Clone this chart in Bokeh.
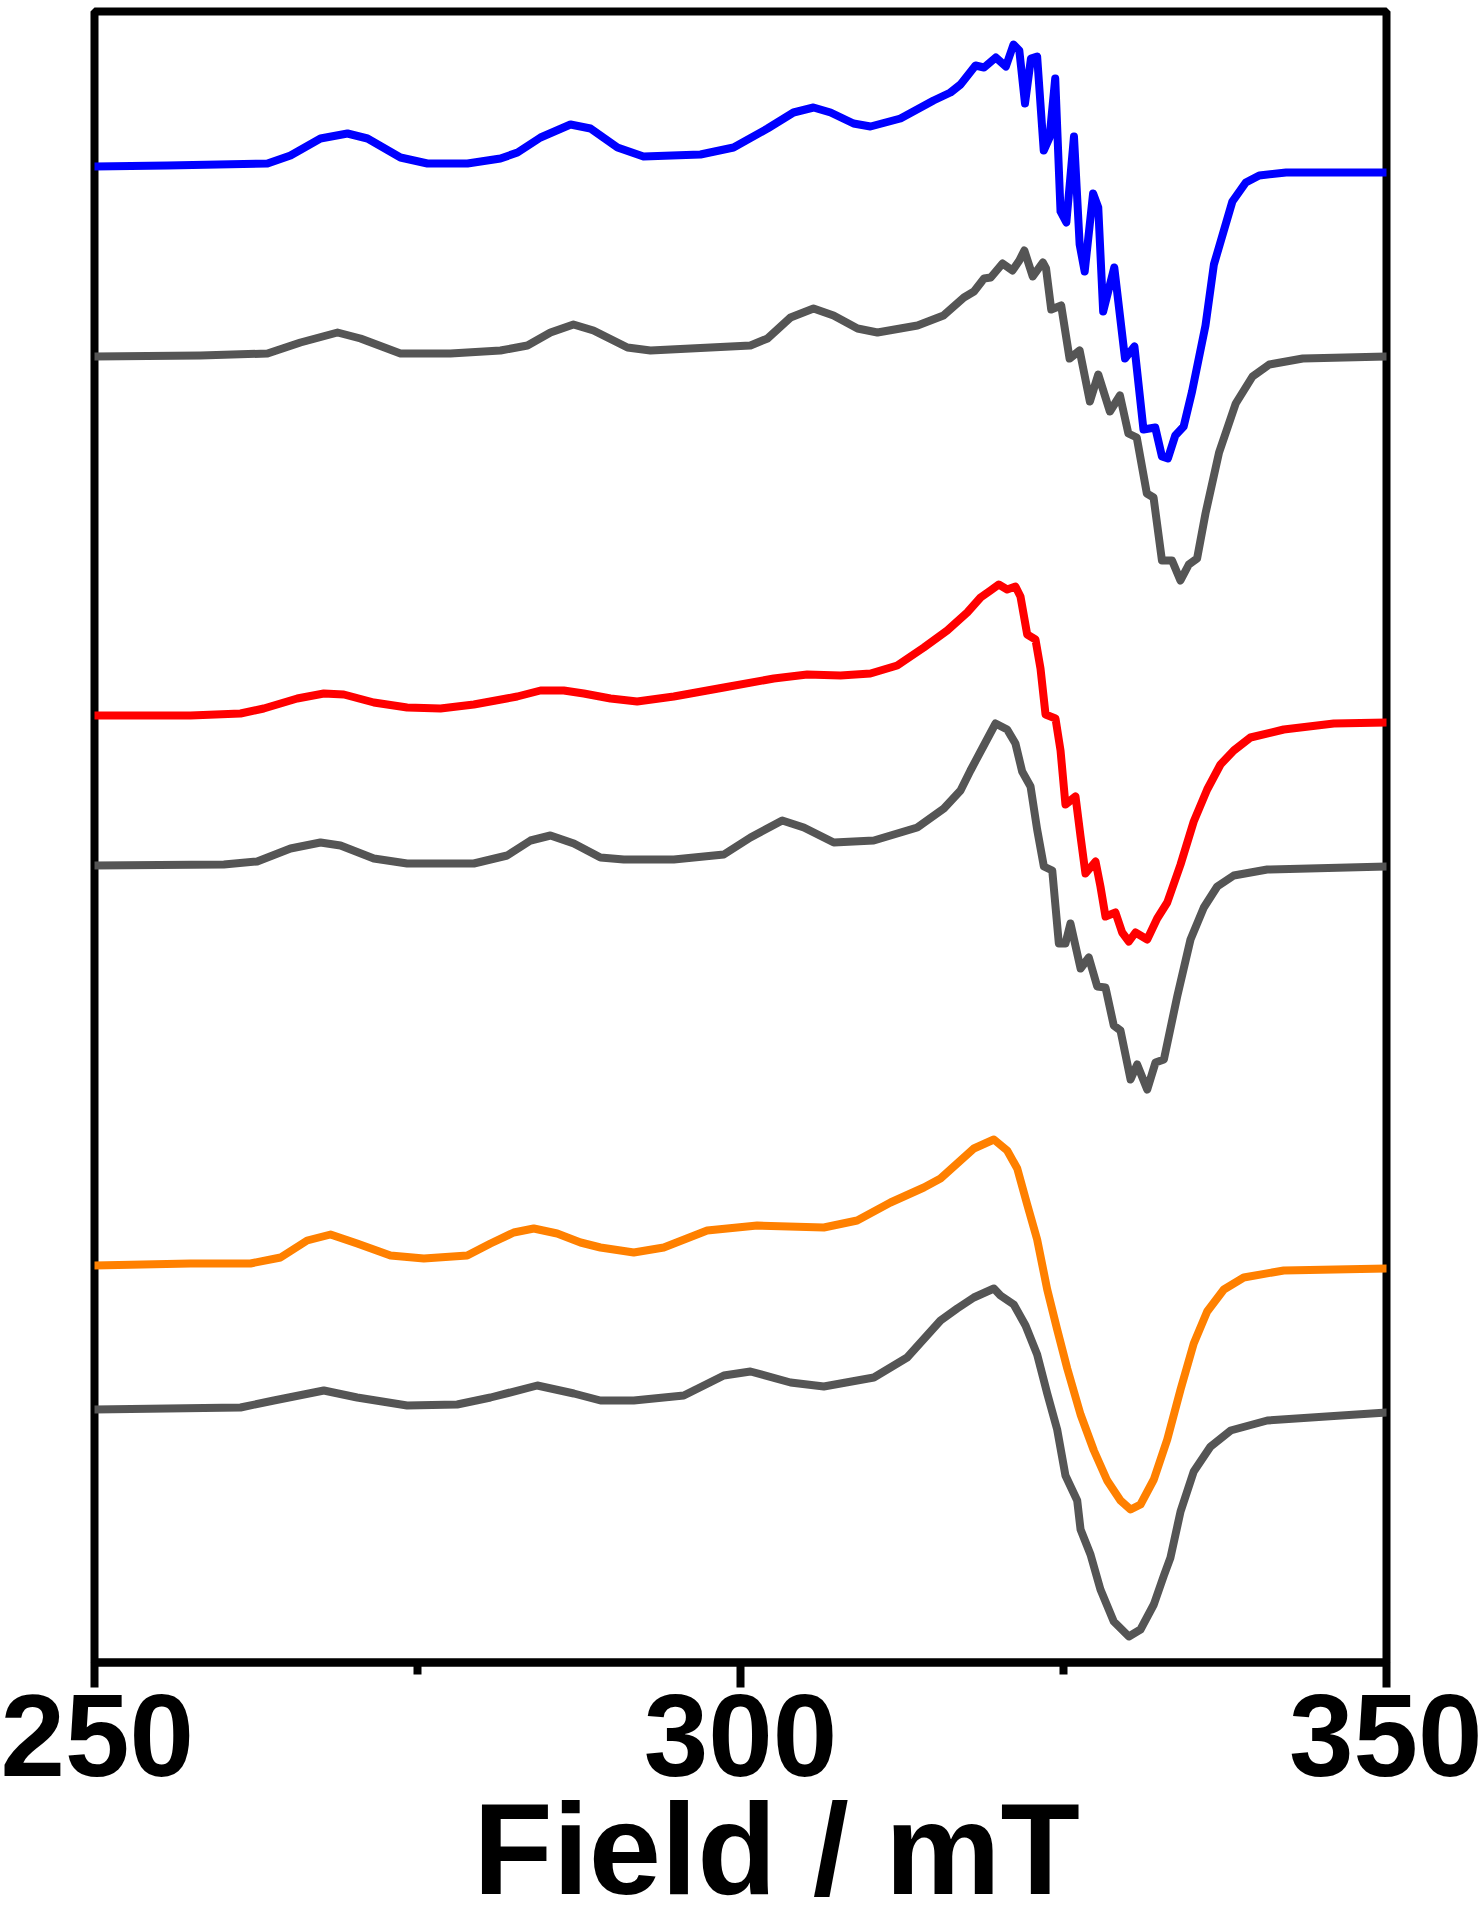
from bokeh.plotting import figure
from bokeh.models import Range1d, FixedTicker, Title
from bokeh.embed import file_html
from bokeh.resources import INLINE

# ---- data: field (mT) and signal (arbitrary units, stacked) ----
blue_x = [250.0, 255.65, 263.39, 265.17, 267.49, 269.58, 271.13, 273.68, 275.77, 278.87, 281.42, 282.74,
          284.52, 286.84, 288.39, 290.48, 292.49, 296.90, 299.46, 302.09, 304.10, 305.65, 306.97, 308.75,
          310.06, 312.38, 314.94, 316.25, 317.03, 318.19, 318.85, 319.76, 320.54, 321.13, 321.58, 322.02,
          322.48, 322.96, 323.47, 323.92, 324.36, 324.77, 325.22, 325.81, 326.25, 326.64, 327.29, 327.69,
          328.07, 328.93, 329.24, 329.76, 330.49, 331.19, 332.10, 332.62, 333.08, 333.65, 334.30, 334.95,
          335.99, 336.64, 338.07, 339.11, 340.15, 342.23, 350.0]
blue_y = [149.6, 149.7, 149.9, 150.7, 152.4, 152.9, 152.4, 150.5, 149.9, 149.9, 150.4, 151.0,
          152.5, 153.8, 153.4, 151.5, 150.6, 150.8, 151.5, 153.4, 155.0, 155.5, 155.0, 153.9,
          153.6, 154.4, 156.2, 157.0, 157.8, 159.7, 159.5, 160.5, 159.6, 161.8, 161.2, 155.9,
          160.4, 160.6, 151.2, 152.5, 158.4, 145.1, 144.0, 152.6, 141.8, 139.1, 146.9, 145.5,
          135.1, 139.5, 136.1, 130.4, 131.6, 123.3, 123.5, 120.6, 120.4, 122.7, 123.6, 127.1,
          133.7, 139.8, 146.1, 148.0, 148.7, 149.0, 149.0]

gray1_x = [250.0, 258.20, 263.39, 265.94, 268.81, 270.59, 273.68, 277.55, 281.42, 283.51, 285.29, 287.07,
           288.62, 291.25, 293.03, 300.77, 302.09, 303.87, 305.65, 307.20, 309.06, 310.60, 313.70, 315.71,
           317.29, 318.07, 318.85, 319.37, 320.28, 321.05, 321.58, 321.97, 322.62, 323.40, 323.65, 324.05,
           324.82, 325.47, 326.25, 327.04, 327.69, 328.59, 329.37, 330.02, 330.67, 331.45, 331.97, 332.62,
           333.40, 334.05, 334.70, 335.34, 335.99, 337.04, 338.33, 339.63, 340.93, 343.52, 350.0]
gray1_y = [130.6, 130.7, 130.9, 132.0, 133.0, 132.4, 130.9, 130.9, 131.2, 131.7, 133.0, 133.8,
           133.2, 131.5, 131.2, 131.7, 132.4, 134.5, 135.4, 134.7, 133.4, 133.0, 133.7, 134.7,
           136.5, 137.1, 138.4, 138.5, 139.9, 139.2, 140.2, 141.2, 138.6, 140.0, 139.4, 135.3,
           135.7, 130.4, 131.2, 126.1, 128.8, 125.1, 126.7, 122.9, 122.5, 116.9, 116.5, 110.2,
           110.2, 108.2, 109.8, 110.4, 114.9, 121.0, 125.9, 128.6, 129.8, 130.4, 130.6]

red_x = [250.0, 257.43, 261.30, 263.10, 265.69, 267.75, 269.30, 271.62, 274.20, 276.78, 279.36, 282.72,
         284.52, 286.32, 287.87, 289.94, 292.00, 294.84, 298.71, 302.58, 305.16, 307.74, 310.06, 312.13,
         314.19, 316.00, 317.55, 318.58, 319.35, 319.99, 320.64, 321.28, 321.67, 322.19, 322.83, 323.22,
         323.61, 324.38, 324.77, 325.15, 325.93, 326.32, 326.70, 327.48, 327.86, 328.25, 329.02, 329.54,
         330.06, 330.57, 331.48, 332.25, 333.03, 334.06, 335.08, 336.12, 337.15, 338.18, 339.47, 342.05,
         345.92, 350.0]
red_y = [94.7, 94.7, 94.9, 95.4, 96.4, 96.9, 96.8, 96.0, 95.5, 95.4, 95.8, 96.6,
         97.2, 97.2, 96.9, 96.4, 96.1, 96.6, 97.5, 98.4, 98.8, 98.7, 98.9, 99.7,
         101.5, 103.2, 105.0, 106.5, 107.2, 107.8, 107.3, 107.6, 106.6, 102.8, 102.3, 99.4,
         94.8, 94.4, 91.2, 85.8, 86.6, 82.6, 78.9, 80.1, 77.6, 74.6, 75.0, 73.0,
         72.1, 73.0, 72.3, 74.4, 76.0, 79.8, 84.1, 87.3, 89.8, 91.2, 92.5, 93.3,
         93.9, 94.0]

gray2_x = [250.0, 260.01, 262.59, 265.17, 267.49, 269.04, 271.62, 274.20, 279.36, 281.94, 283.75, 285.29,
           287.10, 289.16, 290.97, 294.84, 298.71, 300.77, 303.23, 304.90, 307.22, 310.32, 313.68, 315.74,
           317.03, 317.80, 318.83, 319.74, 320.64, 321.28, 321.80, 322.45, 322.96, 323.48, 324.13, 324.64,
           325.15, 325.54, 326.32, 326.96, 327.61, 328.25, 328.89, 329.41, 330.19, 330.70, 331.48, 332.12,
           332.77, 333.80, 334.83, 335.86, 336.90, 338.18, 340.77, 350.0]
gray2_y = [79.7, 79.8, 80.1, 81.4, 82.0, 81.7, 80.4, 79.9, 79.9, 80.7, 82.2, 82.7,
           81.9, 80.5, 80.3, 80.3, 80.8, 82.5, 84.2, 83.5, 82.0, 82.2, 83.5, 85.4,
           87.2, 89.2, 91.7, 93.9, 93.3, 91.9, 89.1, 87.6, 83.3, 79.6, 79.2, 71.9,
           71.9, 73.9, 69.4, 70.5, 67.6, 67.5, 63.7, 63.2, 58.3, 59.8, 57.3, 60.0,
           60.3, 66.6, 72.3, 75.5, 77.6, 78.7, 79.3, 79.6]

orange_x = [250.0, 257.43, 262.07, 264.40, 266.46, 268.27, 270.33, 272.91, 275.49, 278.85, 280.65, 282.45,
            284.00, 285.81, 287.62, 289.16, 291.74, 294.06, 297.42, 301.29, 306.45, 309.03, 311.61, 314.19,
            315.48, 318.06, 319.61, 320.64, 321.42, 322.19, 322.96, 323.74, 324.51, 325.29, 326.32, 327.35,
            328.38, 329.41, 330.19, 330.96, 331.99, 333.03, 334.06, 335.08, 336.12, 337.41, 338.95, 342.05,
            350.0]
orange_y = [39.7, 39.9, 39.9, 40.5, 42.2, 42.8, 41.9, 40.7, 40.4, 40.7, 41.9, 43.0,
            43.4, 42.9, 42.0, 41.5, 41.0, 41.5, 43.2, 43.7, 43.5, 44.2, 46.0, 47.5,
            48.4, 51.4, 52.3, 51.2, 49.4, 45.8, 42.3, 37.3, 33.3, 29.4, 24.8, 21.2,
            18.2, 16.2, 15.3, 15.8, 18.3, 22.3, 27.3, 31.9, 35.1, 37.3, 38.5, 39.2,
            39.4]

gray3_x = [250.0, 261.30, 263.88, 267.75, 270.33, 274.20, 278.07, 280.65, 284.27, 287.10, 289.16, 291.74,
           295.61, 298.71, 300.77, 303.87, 306.45, 310.32, 312.90, 315.48, 316.77, 318.06, 319.61, 320.12,
           321.15, 322.06, 322.96, 323.74, 324.51, 325.15, 326.06, 326.32, 327.09, 327.86, 328.89, 330.06,
           330.96, 331.99, 332.77, 333.28, 334.06, 335.08, 336.38, 337.93, 340.77, 350.0]
gray3_y = [25.3, 25.5, 26.2, 27.2, 26.5, 25.7, 25.8, 26.5, 27.7, 26.9, 26.2, 26.2,
           26.7, 28.7, 29.1, 28.0, 27.6, 28.5, 30.5, 34.2, 35.4, 36.5, 37.4, 36.7,
           35.8, 33.7, 30.8, 26.9, 23.3, 18.7, 16.2, 13.3, 10.8, 7.3, 4.1, 2.6,
           3.3, 5.8, 8.7, 10.5, 15.1, 19.1, 21.6, 23.2, 24.2, 25.0]

major_ticks = [250, 300, 350]
minor_ticks = [275, 325]
x_label = "Field / mT"

series = [
    (blue_x, blue_y, "#0000FF"),
    (gray1_x, gray1_y, "#555555"),
    (red_x, red_y, "#FF0000"),
    (gray2_x, gray2_y, "#555555"),
    (orange_x, orange_y, "#FF8000"),
    (gray3_x, gray3_y, "#555555"),
]

FONT = "Liberation Sans"

p = figure(frame_width=1292, frame_height=1651, output_backend="svg", toolbar_location=None,
           x_range=Range1d(250, 350), y_range=Range1d(0, 165.1),
           min_border_left=94, min_border_right=96, min_border_top=11, min_border_bottom=0)

for xs, ys, c in series:
    p.line(xs, ys, line_color=c, line_width=8, line_join="round", line_cap="round")

p.xgrid.visible = False
p.ygrid.visible = False
p.yaxis.visible = False

p.outline_line_color = "black"
p.outline_line_width = 8
p.outline_line_alpha = 1.0

ax = p.xaxis[0]
ax.ticker = FixedTicker(ticks=major_ticks, minor_ticks=minor_ticks)
ax.axis_line_width = 8
ax.axis_line_color = "black"
ax.major_tick_line_width = 8
ax.major_tick_in = 0
ax.major_tick_out = 25
ax.minor_tick_line_width = 8
ax.minor_tick_in = 0
ax.minor_tick_out = 12
ax.major_label_text_font = FONT
ax.major_label_text_font_style = "bold"
ax.major_label_text_font_size = "116px"
ax.major_label_text_color = "black"
ax.major_label_standoff = 7

# the reference title sits slightly right of the frame centre
title = Title(text="\u00a0\u00a0" + x_label, align="center", standoff=-9,
              text_font=FONT, text_font_style="bold", text_font_size="130px",
              text_color="black")
p.add_layout(title, "below")

p.background_fill_color = "white"
p.border_fill_color = "white"

open("out.html", "w").write(file_html(p, INLINE))
